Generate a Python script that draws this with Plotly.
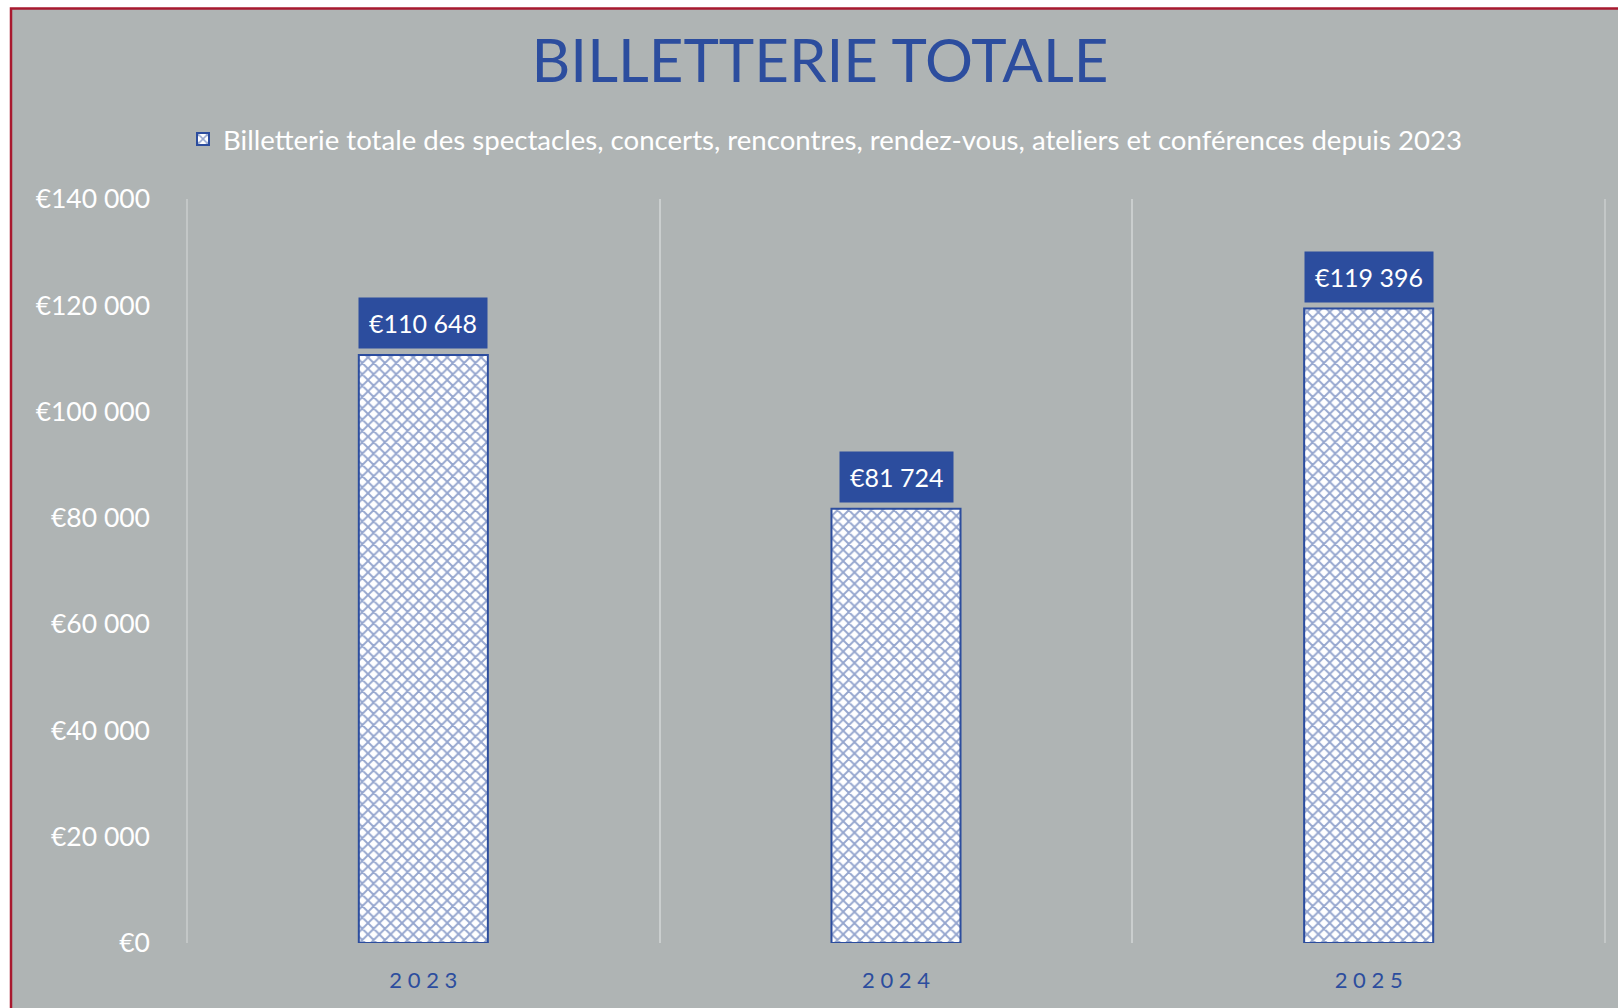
import plotly.graph_objects as go

# ---- data ----
years = ["2023", "2024", "2025"]
values = [110648, 81724, 119396]
series_name = "Billetterie totale des spectacles, concerts, rencontres, rendez-vous, ateliers et conférences depuis 2023"
title_text = "BILLETTERIE TOTALE"
y_ticks = [0, 20000, 40000, 60000, 80000, 100000, 120000, 140000]

# ---- style ----
W, H = 1618, 1008
ML, MR, MT, MB = 187, 13, 199, 65
PW, PH = W - ML - MR, H - MT - MB
BLUE = "#2C4D9E"
GREY = "#AFB4B4"
GRID = "#CACECE"
RED = "#A8192F"
FONT = "Lato"


def px_x(p):
    return (p - ML) / PW


def px_y(p):
    return (H - MB - p) / PH


def euro(v):
    return "€" + f"{v:,}".replace(",", " ")


# spaced-out year labels (letter-spacing look)
cats = [" ".join(y) for y in years]

fig = go.Figure()
fig.add_trace(go.Bar(
    x=cats,
    y=values,
    name=series_name,
    width=0.273,
    marker=dict(
        color="white",
        line=dict(color=BLUE, width=2),
        pattern=dict(shape="x", fgcolor=BLUE, bgcolor="white", size=8, solidity=0.42),
    ),
    showlegend=True,
))

for c, v in zip(cats, values):
    fig.add_annotation(
        x=c, y=v, xref="x", yref="y",
        text=euro(v), showarrow=False,
        yanchor="bottom", yshift=6,
        bgcolor=BLUE, borderpad=10,
        font=dict(family=FONT, size=25, color="white"),
    )

# background panel with red border (top/left visible)
fig.add_shape(
    type="rect", xref="paper", yref="paper", layer="below",
    x0=px_x(11), x1=px_x(W + 50), y0=px_y(H + 50), y1=px_y(8.5),
    fillcolor=GREY, line=dict(color=RED, width=2.5),
)
# outer category-boundary grid lines at the plot edges
for xe in (0, 1):
    fig.add_shape(
        type="line", xref="paper", yref="paper", layer="below",
        x0=xe, x1=xe, y0=0, y1=1,
        line=dict(color=GRID, width=1.5),
    )

fig.update_layout(
    width=W, height=H,
    margin=dict(l=ML, r=MR, t=MT, b=MB, autoexpand=False),
    paper_bgcolor="white",
    plot_bgcolor="rgba(0,0,0,0)",
    font=dict(family=FONT, color="white"),
    title=dict(
        text=title_text, xref="paper", x=px_x(820), xanchor="center",
        yref="container", y=1 - 61 / H, yanchor="middle",
        font=dict(family=FONT, size=60, color=BLUE),
    ),
    legend=dict(
        orientation="h", xref="paper", yref="paper",
        x=px_x(825), xanchor="center", y=px_y(139), yanchor="middle",
        font=dict(family=FONT, size=27.6, color="white"),
        bgcolor="rgba(0,0,0,0)",
    ),
    bargap=0.727,
    xaxis=dict(
        type="category",
        range=[-0.5, 2.5],
        tickson="boundaries",
        showgrid=True, gridcolor=GRID, gridwidth=1.5,
        ticks="", showline=False, zeroline=False,
        tickfont=dict(family=FONT, size=22, color=BLUE),
        ticklabelstandoff=22,
        tickangle=0,
    ),
    yaxis=dict(
        range=[0, 140000], tickmode="array", tickvals=y_ticks,
        ticktext=[euro(v) for v in y_ticks],
        showgrid=False, zeroline=False, showline=False, ticks="",
        tickfont=dict(family=FONT, size=26.5, color="white"),
        ticklabelstandoff=36,
    ),
)

fig.write_html(
    "out.html",
    config={"displayModeBar": False},
    post_script="document.body.style.margin='0';document.body.style.overflow='hidden';",
)
